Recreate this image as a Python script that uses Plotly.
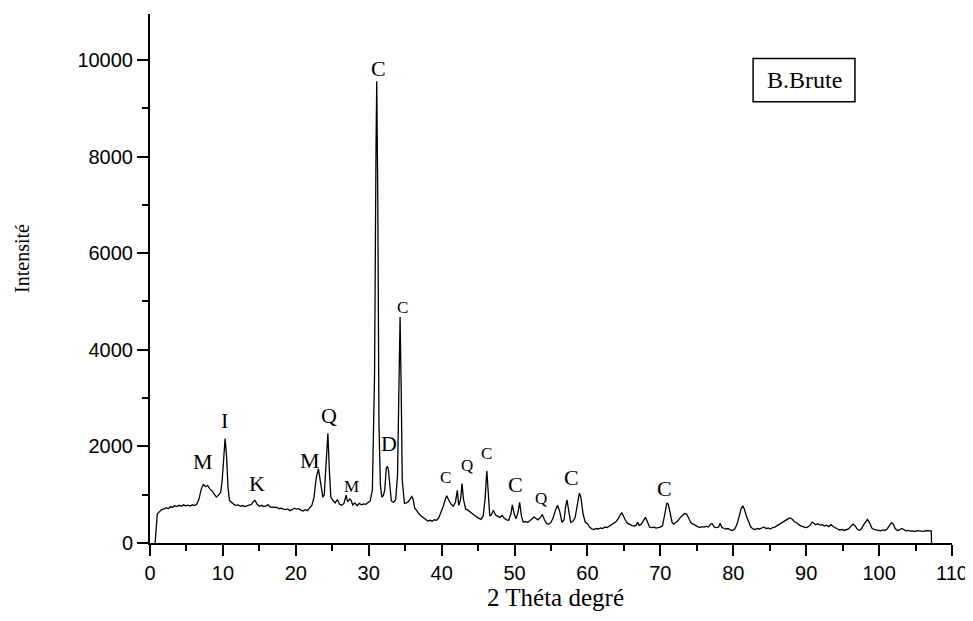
import plotly.graph_objects as go

# --- Data ---
two_theta = [
    0.7, 0.85, 1.0, 1.3, 1.6, 1.9, 2.2, 2.5, 2.8, 3.1, 3.4, 3.7, 4.0, 4.3, 4.6, 4.9, 5.2, 5.5, 5.8, 6.1,
    6.4, 6.7, 7.0, 7.3, 7.6, 7.9, 8.2, 8.5, 8.8, 9.1, 9.4, 9.7, 9.9, 10.1, 10.3, 10.5, 10.7, 10.9, 11.2, 11.5,
    11.8, 12.1, 12.4, 12.7, 13.0, 13.3, 13.6, 13.9, 14.2, 14.4, 14.7, 15.0, 15.3, 15.6, 15.9, 16.2, 16.5, 16.8, 17.1, 17.4,
    17.7, 18.0, 18.3, 18.6, 18.9, 19.2, 19.5, 19.8, 20.1, 20.4, 20.7, 21.0, 21.3, 21.6, 21.9, 22.2, 22.5, 22.8, 23.1, 23.4,
    23.7, 23.9, 24.1, 24.4, 24.6, 24.8, 25.1, 25.4, 25.7, 26.0, 26.3, 26.6, 26.9, 27.1, 27.4, 27.6, 27.8, 28.1, 28.4, 28.7,
    29.0, 29.3, 29.6, 29.9, 30.2, 30.5, 30.8, 31.0, 31.1, 31.25, 31.4, 31.6, 31.8, 32.0, 32.2, 32.4, 32.55, 32.7, 32.9, 33.1,
    33.4, 33.7, 33.95, 34.15, 34.3, 34.45, 34.6, 34.9, 35.2, 35.5, 35.9, 36.1, 36.3, 36.6, 36.9, 37.2, 37.5, 37.8, 38.1, 38.4,
    38.7, 39.0, 39.3, 39.6, 39.9, 40.2, 40.5, 40.7, 41.0, 41.3, 41.6, 41.9, 42.15, 42.35, 42.6, 42.8, 43.0, 43.3, 43.6, 43.9,
    44.2, 44.5, 44.8, 45.1, 45.4, 45.7, 45.95, 46.2, 46.4, 46.6, 46.8, 47.1, 47.4, 47.7, 48.0, 48.3, 48.6, 48.9, 49.2, 49.5,
    49.7, 49.95, 50.2, 50.5, 50.7, 50.95, 51.2, 51.5, 51.8, 52.1, 52.4, 52.7, 52.9, 53.2, 53.5, 53.8, 54.1, 54.4, 54.7, 55.0,
    55.3, 55.6, 55.9, 56.2, 56.5, 56.8, 57.0, 57.2, 57.45, 57.7, 58.0, 58.3, 58.6, 58.9, 59.1, 59.4, 59.7, 60.0, 60.3, 60.6,
    60.9, 61.2, 61.5, 61.8, 62.1, 62.4, 62.7, 63.0, 63.3, 63.6, 63.9, 64.2, 64.5, 64.7, 64.9, 65.2, 65.5, 65.8, 66.1, 66.4,
    66.7, 66.9, 67.1, 67.4, 67.7, 67.95, 68.2, 68.5, 68.8, 69.1, 69.4, 69.7, 70.0, 70.3, 70.6, 70.9, 71.1, 71.4, 71.6, 71.8,
    72.1, 72.4, 72.7, 73.0, 73.3, 73.6, 73.9, 74.2, 74.5, 74.8, 75.1, 75.4, 75.7, 76.0, 76.3, 76.6, 76.9, 77.1, 77.4, 77.7,
    78.0, 78.2, 78.4, 78.7, 79.0, 79.3, 79.6, 79.9, 80.2, 80.5, 80.8, 81.1, 81.3, 81.5, 81.8, 82.1, 82.4, 82.7, 83.0, 83.3,
    83.6, 83.9, 84.2, 84.5, 84.8, 85.1, 85.4, 85.7, 86.0, 86.3, 86.6, 86.9, 87.2, 87.5, 87.8, 88.1, 88.4, 88.7, 89.0, 89.3,
    89.6, 89.9, 90.2, 90.5, 90.8, 91.0, 91.3, 91.6, 91.9, 92.2, 92.5, 92.8, 93.1, 93.4, 93.7, 94.0, 94.3, 94.6, 94.9, 95.2,
    95.5, 95.8, 96.1, 96.4, 96.7, 97.0, 97.3, 97.6, 97.9, 98.2, 98.4, 98.7, 99.0, 99.3, 99.6, 99.9, 100.2, 100.5, 100.8, 101.1,
    101.4, 101.7, 101.95, 102.2, 102.5, 102.8, 103.1, 103.4, 103.7, 104.0, 104.3, 104.6, 104.9, 105.2, 105.5, 105.8, 106.1, 106.4, 106.7, 107.0,
    107.15, 107.2,
]
intensity = [
    0, 300, 600, 650, 690, 700, 730, 710, 750, 740, 770, 755, 780, 760, 790, 770, 785, 765, 790, 775,
    800, 900, 1100, 1210, 1170, 1190, 1120, 1080, 1010, 950, 990, 1050, 1300, 1850, 2160, 1800, 1150, 880, 830, 800,
    780, 790, 760, 775, 755, 770, 780, 800, 860, 880, 800, 760, 780, 755, 770, 790, 745, 740, 725, 735,
    710, 720, 700, 690, 705, 670, 690, 720, 700, 710, 680, 660, 690, 670, 730, 780, 950, 1350, 1540, 1250,
    950, 1000, 1500, 2270, 1500, 950, 880, 830, 900, 800, 780, 820, 990, 850, 910, 880, 790, 830, 770, 820,
    790, 810, 800, 840, 870, 1100, 3500, 8200, 9560, 7000, 2500, 1200, 950, 980, 1100, 1540, 1590, 1520, 1100, 870,
    840, 900, 1400, 3800, 4680, 3200, 1300, 820, 830, 870, 960, 900, 720, 670, 600, 560, 520, 480, 455, 470,
    450, 480, 470, 520, 620, 750, 900, 980, 880, 800, 760, 850, 1090, 780, 900, 1230, 900, 700, 680, 640,
    620, 570, 540, 510, 490, 560, 900, 1490, 900, 560, 580, 680, 580, 560, 530, 570, 510, 480, 470, 600,
    790, 600, 500, 650, 840, 550, 430, 440, 430, 460, 500, 540, 510, 480, 520, 590, 480, 400, 390, 430,
    520, 680, 780, 650, 430, 480, 750, 890, 650, 430, 450, 520, 780, 1030, 950, 600, 430, 400, 330, 290,
    280, 300, 290, 310, 300, 330, 320, 350, 370, 400, 440, 500, 590, 630, 570, 470, 410, 380, 360, 350,
    370, 430, 360, 390, 480, 530, 450, 330, 320, 330, 310, 320, 330, 360, 600, 830, 800, 600, 430, 390,
    420, 460, 520, 570, 610, 600, 500, 420, 390, 360, 340, 320, 340, 330, 350, 330, 390, 400, 330, 320,
    330, 410, 330, 300, 290, 300, 270, 260, 290, 380, 580, 720, 770, 710, 560, 420, 330, 290, 280, 300,
    290, 310, 330, 300, 310, 290, 320, 330, 360, 390, 420, 440, 470, 500, 520, 490, 440, 420, 380, 350,
    340, 320, 330, 360, 430, 420, 380, 400, 370, 380, 350, 370, 340, 380, 340, 310, 290, 270, 280, 260,
    270, 290, 340, 390, 360, 290, 260, 300, 380, 460, 490, 420, 310, 280, 270, 260, 250, 270, 260, 290,
    360, 420, 390, 300, 260, 270, 300, 280, 250, 260, 245, 250, 235, 255, 245, 250, 240, 255, 250, 260,
    250, 0,
]

# Peak labels: phase letter, position (2theta, intensity), size class
peak_text = ["M", "I", "K", "M", "Q", "M", "C", "D", "C", "C", "Q", "C", "C", "Q", "C", "C"]
peak_x = [7.3, 10.15, 14.7, 21.9, 24.55, 27.7, 31.3, 32.8, 34.6, 40.5, 43.5, 46.1, 50.1, 53.6, 57.8, 70.5]
peak_y = [1691, 2540, 1236, 1712, 2644, 1174, 9828, 2064, 4880, 1360, 1609, 1857, 1216, 926, 1360, 1133]
peak_big = [True, True, True, True, True, False, True, True, False, False, False, False, True, False, True, True]

x_ticks = [0, 10, 20, 30, 40, 50, 60, 70, 80, 90, 100, 110]
y_ticks = [0, 2000, 4000, 6000, 8000, 10000]

sample_name = "B.Brute"
x_title = "2 Théta degré"
y_title = "Intensité"

SERIF = "Liberation Serif, Times New Roman, serif"
SANS = "Liberation Sans, Arial, sans-serif"

fig = go.Figure()
fig.add_trace(go.Scatter(
    x=two_theta, y=intensity, mode="lines",
    line=dict(color="black", width=1.3),
    hoverinfo="x+y", showlegend=False,
))

annotations = []
for t, px, py, big in zip(peak_text, peak_x, peak_y, peak_big):
    annotations.append(dict(
        x=px, y=py, xref="x", yref="y", text=t, showarrow=False,
        xanchor="center", yanchor="middle",
        font=dict(family=SERIF, size=22 if big else 17, color="black"),
    ))

# Axis titles
annotations.append(dict(
    x=0.505, y=-0.103, xref="paper", yref="paper", text=x_title, showarrow=False,
    xanchor="center", yanchor="middle",
    font=dict(family=SERIF, size=25, color="black"),
))
annotations.append(dict(
    x=-0.1596, y=0.537, xref="paper", yref="paper", text=y_title, showarrow=False,
    xanchor="center", yanchor="middle", textangle=-90,
    font=dict(family=SERIF, size=20, color="black"),
))
# Sample name box
annotations.append(dict(
    x=0.8155, y=0.875, xref="paper", yref="paper", text=sample_name, showarrow=False,
    xanchor="center", yanchor="middle",
    font=dict(family=SERIF, size=24, color="black"),
))

fig.add_shape(type="rect", xref="paper", yref="paper",
              x0=0.752, x1=0.879, y0=0.834, y1=0.916,
              line=dict(color="black", width=1.5), fillcolor="rgba(0,0,0,0)")

# The page body has an 8px margin, so the figure is sized/offset to land
# on the same pixels as the reference inside the 973x621 window.
fig.update_layout(
    width=965, height=613,
    margin=dict(l=142, r=21, t=6, b=78, autoexpand=False),
    paper_bgcolor="white", plot_bgcolor="white",
    annotations=annotations,
    showlegend=False,
)
fig.update_xaxes(
    range=[0, 110], tickvals=x_ticks, ticktext=[str(v) for v in x_ticks],
    automargin=False,
    showline=True, linecolor="black", linewidth=2,
    ticks="outside", ticklen=11, tickwidth=2, tickcolor="black",
    minor=dict(dtick=5, ticks="outside", ticklen=6, tickwidth=2, tickcolor="black", showgrid=False),
    showgrid=False, zeroline=False,
    tickfont=dict(family=SANS, size=20, color="black"),
)
fig.update_yaxes(
    range=[0, 10950], tickvals=y_ticks, ticktext=[str(v) for v in y_ticks],
    automargin=False,
    showline=True, linecolor="black", linewidth=2,
    ticks="outside", ticklen=11, tickwidth=2, tickcolor="black",
    minor=dict(dtick=1000, ticks="outside", ticklen=6, tickwidth=2, tickcolor="black", showgrid=False),
    showgrid=False, zeroline=False,
    tickfont=dict(family=SANS, size=20, color="black"),
)

fig.write_html("out.html")
